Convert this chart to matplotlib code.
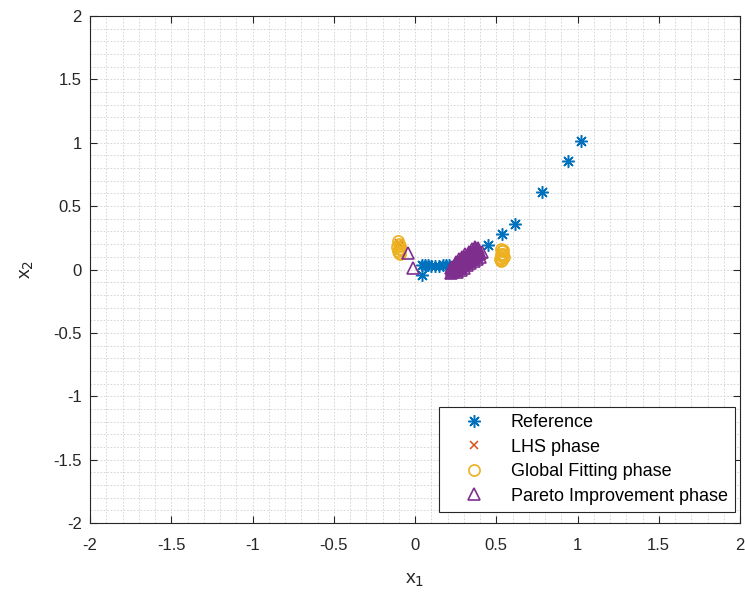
import matplotlib
matplotlib.use("Agg")
import matplotlib.pyplot as plt
from matplotlib.ticker import MultipleLocator

plt.rcParams['font.family'] = ['Liberation Sans', 'DejaVu Sans']

# reference front (blue asterisks)
ref_x = [1.02, 0.94, 0.78, 0.613, 0.533, 0.449, 0.21, 0.19, 0.17, 0.15, 0.124,
         0.10, 0.08, 0.06, 0.042, 0.042]
ref_y = [1.014, 0.858, 0.614, 0.359, 0.278, 0.193, 0.035, 0.034, 0.032, 0.031, 0.03,
         0.031, 0.032, 0.033, 0.035, -0.043]

# LHS phase (red crosses, mostly hidden)
lhs_x = [-0.10, -0.095]
lhs_y = [0.21, 0.19]

# global fitting phase (yellow circles)
glob_x = [-0.105, -0.10, -0.095, -0.10, -0.105, -0.098, -0.093, -0.11, -0.09,
          0.53, 0.535, 0.54, 0.535, 0.53, 0.538, 0.532, 0.528, 0.545, 0.525, 0.54]
glob_y = [0.225, 0.205, 0.185, 0.165, 0.145, 0.13, 0.12, 0.18, 0.16,
          0.165, 0.145, 0.125, 0.105, 0.09, 0.075, 0.065, 0.12, 0.1, 0.08, 0.155]

# pareto improvement phase (purple triangles)
par_x = [-0.044, -0.013,
         0.22, 0.23, 0.24, 0.25, 0.26, 0.27, 0.28, 0.29, 0.30, 0.31,
         0.32, 0.33, 0.34, 0.35, 0.36, 0.37, 0.38, 0.39, 0.40, 0.41,
         0.22, 0.23, 0.24, 0.25, 0.26, 0.27, 0.28, 0.29, 0.30, 0.31,
         0.32, 0.33, 0.34, 0.35, 0.36, 0.37, 0.38, 0.39,
         0.225, 0.245, 0.265, 0.285, 0.305, 0.325, 0.345, 0.365, 0.385,
         0.25, 0.27, 0.29, 0.31, 0.33, 0.35, 0.37,
         0.26, 0.28, 0.30, 0.32, 0.34, 0.36, 0.38, 0.40]
par_y = [0.128, 0.01,
         -0.025, -0.02, -0.012, -0.004, 0.005, 0.014, 0.023, 0.032, 0.041, 0.05,
         0.059, 0.068, 0.077, 0.086, 0.095, 0.104, 0.113, 0.122, 0.13, 0.135,
         0.01, 0.02, 0.03, 0.04, 0.05, 0.06, 0.07, 0.08, 0.09, 0.10,
         0.11, 0.12, 0.13, 0.14, 0.15, 0.16, 0.165, 0.17,
         -0.005, 0.01, 0.03, 0.05, 0.07, 0.09, 0.11, 0.13, 0.145,
         0.06, 0.08, 0.10, 0.12, 0.14, 0.16, 0.18,
         -0.02, -0.002, 0.015, 0.032, 0.05, 0.068, 0.085, 0.1]

ticks = [-2, -1.5, -1, -0.5, 0, 0.5, 1, 1.5, 2]
tick_labels = ['-2', '-1.5', '-1', '-0.5', '0', '0.5', '1', '1.5', '2']

fig = plt.figure(figsize=(7.45, 5.97), dpi=100)
ax = fig.add_axes([90 / 745, 1 - 523 / 597, 650 / 745, 507 / 597])

ax.plot(ref_x, ref_y, marker=(8, 2, 0), color='#0072BD', markersize=9,
        markeredgewidth=1.1, linestyle='none', label='Reference')
ax.plot(lhs_x, lhs_y, 'x', color='#D95319', markersize=6, markeredgewidth=1.1,
        linestyle='none', label='LHS phase')
ax.plot(glob_x, glob_y, 'o', color='#EDB120', markerfacecolor='none', markersize=8,
        markeredgewidth=1.2, linestyle='none', label='Global Fitting phase')
ax.plot(par_x, par_y, '^', color='#7E2F8E', markerfacecolor='none', markersize=8.5,
        markeredgewidth=1.2, linestyle='none', label='Pareto Improvement phase')

ax.set_xlim(-2, 2)
ax.set_ylim(-2, 2)
ax.xaxis.set_minor_locator(MultipleLocator(0.1))
ax.yaxis.set_minor_locator(MultipleLocator(0.1))
ax.set_xticks(ticks)
ax.set_xticklabels(tick_labels)
ax.set_yticks(ticks)
ax.set_yticklabels(tick_labels)
ax.grid(True, which='both', linestyle=(0, (2, 2)), color='#d0d0d0', linewidth=0.6)
ax.set_axisbelow(True)
ax.tick_params(which='major', direction='in', length=5, top=True, right=True,
               labelsize=12, colors='#262626', width=0.8)
ax.tick_params(axis='x', which='major', pad=11)
ax.tick_params(axis='y', which='major', pad=6)
ax.tick_params(which='minor', length=0)
for s in ax.spines.values():
    s.set_color('#262626')
    s.set_linewidth(0.8)

ax.set_xlabel('x$_1$', fontsize=14, color='#262626', labelpad=13)
ax.set_ylabel('x$_2$', fontsize=14, color='#262626', labelpad=12)

leg = ax.legend(loc='lower right', bbox_to_anchor=(0.992, 0.0217), borderaxespad=0,
                fontsize=13, fancybox=False, edgecolor='#262626', framealpha=1,
                borderpad=0.4, labelspacing=0.42, handlelength=3.0, handletextpad=0.55)
leg.get_frame().set_linewidth(0.8)

fig.savefig('out.png', dpi=100)
